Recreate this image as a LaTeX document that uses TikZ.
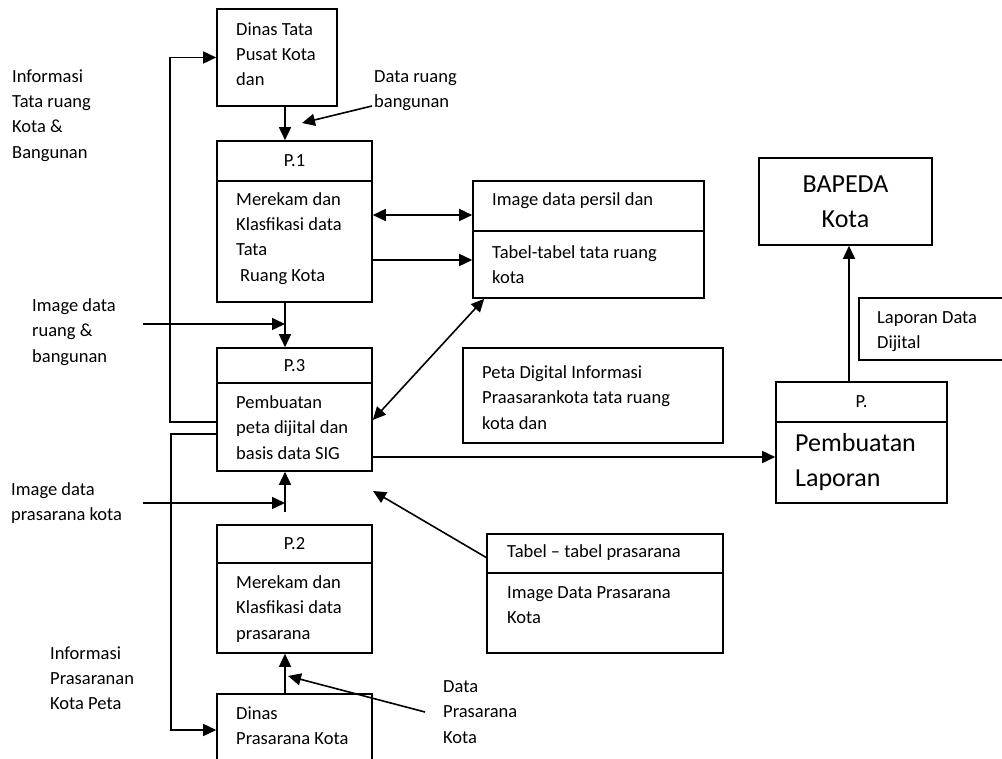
\documentclass[tikz,border=0pt]{standalone}
\usepackage{fontspec}
\setmainfont{Carlito}
\usetikzlibrary{positioning,arrows.meta}

\tikzset{
  box/.style={draw, line width=1.6pt, inner sep=0pt, align=center, font=\fontsize{18.5}{25.2}\selectfont},
  txt/.style={anchor=west, align=left, inner sep=0pt, font=\fontsize{18.5}{25.2}\selectfont},
  bigtxt/.style={align=left, inner sep=0pt, font=\fontsize{26}{35}\selectfont},
  flow/.style={line width=1.6pt, -{Triangle[length=13pt,width=12pt]}},
  twoway/.style={line width=1.6pt, {Triangle[length=13pt,width=12pt]}-{Triangle[length=13pt,width=12pt]}}
}

\begin{document}
\begin{tikzpicture}[x=1pt,y=-1pt]
    \useasboundingbox (0,0) rectangle (1002,759);
    \clip (0,0) rectangle (1002,759);

    % Dinas boxes
    \node[box, minimum width=120, minimum height=97] (dtata) at (277,57.5) {};
    \node[txt] (dtatat) at (236,54) {Dinas Tata\\Pusat Kota\\dan};
    \node[box, minimum width=155, minimum height=96] (dpras) at (294.5,742) {};
    \node[txt] (dprast) at (236,725.5) {Dinas\\Prasarana Kota};

    % Processes
    \node[box, minimum width=155, minimum height=40] (p1h) at (294.5,161) {P.1};
    \node[box, minimum width=155, minimum height=121] (p1b) at (294.5,241.5) {};
    \node[txt] (p1t) at (236,238.5) {Merekam dan\\Klasfikasi data\\Tata\\\hspace*{4pt}Ruang Kota};

    \node[box, minimum width=155, minimum height=35] (p3h) at (294.5,365.5) {P.3};
    \node[box, minimum width=155, minimum height=88] (p3b) at (294.5,427) {};
    \node[txt] (p3t) at (236,427.5) {Pembuatan\\peta dijital dan\\basis data SIG};

    \node[box, minimum width=155, minimum height=38] (p2h) at (294.5,544) {P.2};
    \node[box, minimum width=155, minimum height=90] (p2b) at (294.5,608) {};
    \node[txt] (p2t) at (236,609) {Merekam dan\\Klasfikasi data\\prasarana};

    \node[box, minimum width=171, minimum height=40] (p4h) at (861.5,402) {P.};
    \node[box, minimum width=171, minimum height=81] (p4b) at (861.5,462.5) {};
    \node[bigtxt, anchor=west] (p4t) at (795,462.5) {Pembuatan\\Laporan};

    % Data stores
    \node[box, minimum width=231, minimum height=50] (st1h) at (588.5,206) {};
    \node[txt] (st1ht) at (492,201) {Image data persil dan};
    \node[box, minimum width=231, minimum height=67] (st1b) at (588.5,264.5) {};
    \node[txt] (st1bt) at (492,264.5) {Tabel-tabel tata ruang\\kota};

    \node[box, minimum width=260, minimum height=95] (peta) at (593,395.5) {};
    \node[txt] (petat) at (482,397.5) {Peta Digital Informasi\\Praasarankota tata ruang\\kota dan};

    \node[box, minimum width=236, minimum height=39] (st2h) at (605,553.5) {};
    \node[txt] (st2ht) at (507,553) {Tabel – tabel prasarana};
    \node[box, minimum width=236, minimum height=80] (st2b) at (605,613) {};
    \node[txt] (st2bt) at (507,605) {Image Data Prasarana\\Kota};

    % BAPEDA
    \node[box, bigtxt, align=center, draw, line width=1.6pt, minimum width=173, minimum height=87] (bapeda) at (845.5,201.5) {BAPEDA\\Kota};
    \node[box, minimum width=156, minimum height=62] (lapdata) at (937,329) {};
    \node[txt] (lapt) at (877,332) {Laporan Data\\Dijital};

    % Labels
    \node[txt] (lblinfo1) at (12,115.5) {Informasi\\Tata ruang\\Kota \&\\Bangunan};
    \node[txt] (lblruang) at (374,90.5) {Data ruang\\bangunan};
    \node[txt] (lblimg1) at (32,332) {Image data\\ruang \&\\bangunan};
    \node[txt] (lblimg2) at (11,503) {Image data\\prasarana kota};
    \node[txt] (lblinfo2) at (50,678) {Informasi\\Prasaranan\\Kota Peta};
    \node[txt] (lblpras) at (443,712) {Data\\Prasarana\\Kota};

    % Free ends
    \coordinate (spine) at (285,0);
    \coordinate (in1) at (143,324);
    \coordinate (in2) at (143,503);
    \coordinate (dr1) at (372,106);
    \coordinate (dr2) at (302,123);
    \coordinate (dp1) at (425,712);
    \coordinate (dp2) at (288,676);
    \coordinate (tp) at (373,491);

    % Vertical flows
    \draw[flow] (spine |- dtata.south) -- (spine |- p1h.north);
    \draw[flow] (spine |- p1b.south) -- (spine |- p3h.north);
    \draw[flow, shorten <=12pt] (spine |- p2h.north) -- (spine |- p3b.south);
    \draw[flow] (spine |- dpras.north) -- (spine |- p2b.south);
    \draw[flow] (849,0 |- p4h.north) -- (849,0 |- bapeda.south);

    % Inputs
    \draw[flow] (in1) -- (spine |- in1);
    \draw[flow] (in2) -- (spine |- in2);
    \draw[flow] (dr1) -- (dr2);
    \draw[flow] (dp1) -- (dp2);
    \draw[flow] ([yshift=-4pt]st2h.west) -- (tp);

    % Feedback loops
    \draw[flow] ([yshift=5pt]p3b.west) -- ++(-46,0) |- (dtata.west);
    \draw[flow] ([yshift=-7pt]p3b.west) -- ++(-45,0) |- ([yshift=12pt]dpras.west);

    % Stores
    \draw[twoway] (p1b.east |- 0,215) -- (st1h.west |- 0,215);
    \draw[flow] (p1b.east |- 0,260) -- (st1b.west |- 0,260);
    \draw[twoway] ([xshift=12pt]st1b.south west) -- ([yshift=7pt]p3b.east);
    \draw[flow] (p3b.east |- 0,457) -- (p4b.west |- 0,457);
\end{tikzpicture}
\end{document}
